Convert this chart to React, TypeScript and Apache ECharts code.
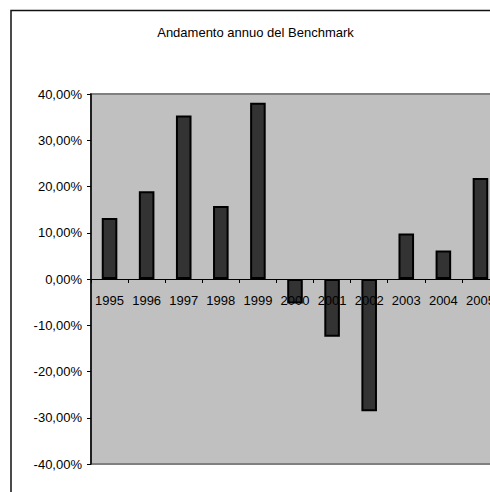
import React, { useEffect, useRef } from "react";
import * as echarts from "echarts";

const title = "Andamento annuo del Benchmark";
const years = ["1995", "1996", "1997", "1998", "1999", "2000", "2001", "2002", "2003", "2004", "2005"];
const returns = [0.132, 0.19, 0.3535, 0.158, 0.381, -0.053, -0.125, -0.286, 0.0985, 0.0615, 0.2185];
const yMin = -0.4;
const yMax = 0.4;
const yStep = 0.1;

const fmtPct = (v: number) => (Math.round(v * 10000) / 100).toFixed(2).replace(".", ",") + "%";

const GRID_TOP = 94;
const GRID_HEIGHT = 370;
const CHART_H = 492;

export default function App() {
  const ref = useRef<HTMLDivElement>(null);
  useEffect(() => {
    if (!ref.current) return;
    const chart = echarts.init(ref.current, undefined, { renderer: "svg" });
    const font = "Liberation Sans, Arial, sans-serif";
    // distance from bottom of grid to zero line (through the value scale)
    const zeroOffset = (GRID_HEIGHT * (0 - yMin)) / (yMax - yMin);
    chart.setOption({
      animation: false,
      backgroundColor: "#ffffff",
      textStyle: { fontFamily: font },
      graphic: [
        {
          type: "rect",
          shape: { x: 11, y: 10.5, width: 700, height: 700 },
          style: { fill: "none", stroke: "#111", lineWidth: 1.5 },
          z: 10,
        },
        {
          type: "text",
          x: 255.5,
          y: 32,
          style: {
            text: title,
            fill: "#000",
            font: "13px Liberation Sans, Arial, sans-serif",
            textAlign: "center",
            textVerticalAlign: "middle",
          },
          z: 10,
        },
      ],
      grid: {
        left: 91,
        top: GRID_TOP,
        right: 21,
        bottom: CHART_H - GRID_TOP - GRID_HEIGHT,
        show: true,
        backgroundColor: "#c0c0c0",
        borderColor: "#808080",
        borderWidth: 2,
      },
      xAxis: {
        type: "category",
        data: years,
        z: 5,
        offset: -zeroOffset,
        axisLine: { onZero: false, lineStyle: { color: "#000", width: 1 } },
        axisTick: { show: true, length: 4, lineStyle: { color: "#000" } },
        axisLabel: { color: "#000", fontSize: 13, margin: 15, fontFamily: font, interval: 0 },
        splitLine: { show: false },
      },
      yAxis: {
        type: "value",
        min: yMin,
        max: yMax,
        interval: yStep,
        axisLine: { show: true, lineStyle: { color: "#000", width: 1.5 } },
        axisTick: { show: true, length: 4, lineStyle: { color: "#000" } },
        axisLabel: { color: "#000", fontSize: 13, margin: 9, fontFamily: font, formatter: fmtPct },
        splitLine: { show: false },
      },
      series: [
        {
          type: "bar",
          data: returns,
          barWidth: "42%",
          itemStyle: { color: "#333333", borderColor: "#000", borderWidth: 2 },
        },
      ],
    });
    return () => chart.dispose();
  }, []);
  return (
    <div
      style={{
        position: "fixed",
        left: 0,
        top: 0,
        width: 490,
        height: 492,
        overflow: "hidden",
        background: "#fff",
      }}
    >
      <div ref={ref} style={{ width: 520, height: CHART_H }} />
    </div>
  );
}
